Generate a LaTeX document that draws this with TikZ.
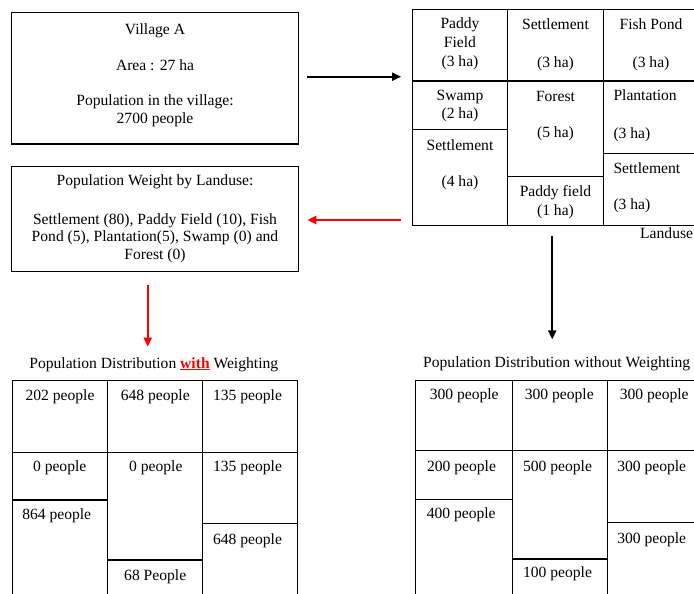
\documentclass[tikz,border=0pt]{standalone}
\usepackage{fontspec}
\setmainfont{Liberation Serif}
\usetikzlibrary{arrows.meta,positioning,calc}

\tikzset{
  box/.style={draw, line width=1.2pt, inner sep=0pt},
  txt/.style={align=center, anchor=north, inner sep=0pt, font=\fontsize{15.6}{17.5}\selectfont},
  ltxt/.style={txt, align=left, anchor=north west},
  wall/.style={line width=1.2pt},
  arr/.style={-{Triangle[length=9pt,width=8pt]}, line width=2pt},
  redarr/.style={arr, red}
}

\begin{document}
\begin{tikzpicture}[x=1pt,y=-1pt]
        \useasboundingbox (0,0) rectangle (694,594);
        \clip (0,0) rectangle (694,594);
        \node[box, minimum width=286.6pt, minimum height=131.7pt] (village) at (155,78.2) {};
        \node[txt] (villagetext) at (155,23) {Village A\\[19pt]Area : 27 ha\\[17.5pt]Population in the village:\\2700 people};
        \node[box, minimum width=286.6pt, minimum height=105pt] (weight) at (155,219.2) {};
        \node[txt] (weighttext) at (155,174.8) {Population Weight by Landuse:\\[21pt]Settlement (80), Paddy Field (10), Fish\\Pond (5), Plantation(5), Swamp (0) and\\Forest (0)};
        % landuse map
        \node[box, minimum width=286.7pt, minimum height=216pt] (landuse) at (555.65,117.3) {};
        \draw[wall] (507.7,9.3) -- (507.7,225.3);
        \draw[wall] (603.3,9.3) -- (603.3,225.3);
        \draw[wall] (412.3,81) -- (699,81);
        \draw[wall] (412.3,129.3) -- (507.7,129.3);
        \draw[wall] (507.7,176.7) -- (603.3,176.7);
        \draw[wall] (603.3,153.3) -- (699,153.3);
        \node[txt] (paddyA) at (460,17) {Paddy\\[1.5pt]Field\\[1.5pt](3 ha)};
        \node[txt] (settleA) at (555.5,18.5) {Settlement\\[20pt](3 ha)};
        \node[txt] (fishpond) at (651,18.5) {Fish Pond\\[20pt](3 ha)};
        \node[txt] (swamp) at (460,89.8) {Swamp\\[1pt](2 ha)};
        \node[txt] (settleB) at (460,139.5) {Settlement\\[18pt](4 ha)};
        \node[txt] (forest) at (555.5,91.2) {Forest\\[18.5pt](5 ha)};
        \node[txt] (paddyB) at (555.5,185.4) {Paddy field\\[1pt](1 ha)};
        \node[ltxt] (plantation) at (613.3,89.8) {Plantation\\[20pt](3 ha)};
        \node[ltxt] (settleC) at (613.3,162.8) {Settlement\\[18pt](3 ha)};
        \node[ltxt] (landuselabel) at (640,227.8) {Landuse};
        % with weighting
        \node[txt] (withtitle) at (153.8,357.1) {Population Distribution {\color{red}\underline{\textbf{with}}} Weighting};
        \node[box, minimum width=285.4pt, minimum height=239.3pt] (withgrid) at (155,500.35) {};
        \draw[wall] (107.3,380.7) -- (107.3,620);
        \draw[wall] (202.7,380.7) -- (202.7,620);
        \draw[wall] (12.3,452.7) -- (297.7,452.7);
        \draw[wall] (12.3,500) -- (107.3,500);
        \draw[wall] (107.3,560) -- (202.7,560);
        \draw[wall] (202.7,523.3) -- (297.7,523.3);
        \node[txt] (wA) at (60,389) {202 people};
        \node[txt] (wB) at (155.3,389) {648 people};
        \node[txt] (wC) at (247.5,389) {135 people};
        \node[txt] (wD) at (59.7,460.8) {0 people};
        \node[txt] (wE) at (155.8,460.8) {0 people};
        \node[txt] (wF) at (247.5,460.8) {135 people};
        \node[txt] (wG) at (56.7,508.8) {864 people};
        \node[txt] (wH) at (247.5,533.1) {648 people};
        \node[txt] (wI) at (155.2,569) {68 People};
        % without weighting
        \node[txt] (withouttitle) at (556.7,356.4) {Population Distribution without Weighting};
        \node[box, minimum width=287.3pt, minimum height=239.3pt] (withoutgrid) at (559.35,500.35) {};
        \draw[wall] (512.3,380.7) -- (512.3,620);
        \draw[wall] (607.3,380.7) -- (607.3,620);
        \draw[wall] (415.7,450.7) -- (703,450.7);
        \draw[wall] (415.7,499.3) -- (512.3,499.3);
        \draw[wall] (512.3,559) -- (607.3,559);
        \draw[wall] (607.3,522.7) -- (703,522.7);
        \node[txt] (nA) at (464.2,388) {300 people};
        \node[txt] (nB) at (559.3,388) {300 people};
        \node[txt] (nC) at (654.2,388) {300 people};
        \node[txt] (nD) at (461.5,460.4) {200 people};
        \node[txt] (nE) at (557.5,460.4) {500 people};
        \node[txt] (nF) at (651.7,460.4) {300 people};
        \node[txt] (nG) at (461.2,507.1) {400 people};
        \node[txt] (nH) at (651.7,532.4) {300 people};
        \node[txt] (nI) at (557.5,566.4) {100 people};
        % arrows
        \draw[arr, shorten <=7.7pt, shorten >=10.6pt] ([yshift=1.5pt]village.east) -- ([yshift=1.5pt]village.east -| landuse.west);
        \draw[redarr, shorten <=10.6pt, shorten >=8.4pt] ([yshift=-0.8pt]weight.east -| landuse.west) -- ([yshift=-0.8pt]weight.east);
        \draw[redarr, shorten <=12.6pt, shorten >=10.4pt] ([xshift=-7.3pt]weight.south) -- ([xshift=-7.3pt]weight.south |- withtitle.north);
        \draw[arr, shorten <=9.7pt, shorten >=17pt] ([xshift=-3.4pt]landuse.south) -- ([xshift=-3.4pt]landuse.south |- withouttitle.north);
\end{tikzpicture}
\end{document}
